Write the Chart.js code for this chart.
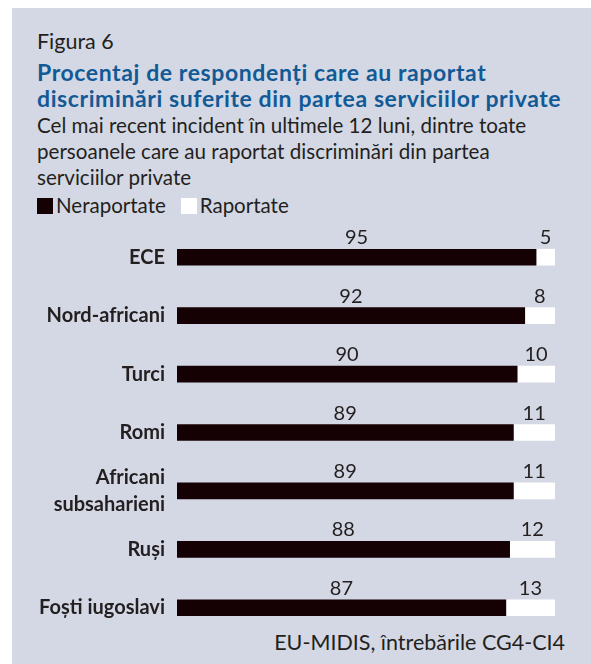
<!DOCTYPE html>
<html>
<head>
<meta charset="utf-8">
<script src="https://cdn.jsdelivr.net/npm/chart.js@4"></script>
<style>
  html, body { margin: 0; padding: 0; background: #fff; }
  body { width: 591px; height: 664px; position: relative; overflow: hidden; font-family: Lato, "Open Sans", sans-serif; color: #231f20; }
  #panel { position: absolute; left: 12px; top: 8px; right: 0; bottom: 0; background: #d4d8e4; }
  .t { position: absolute; left: 37px; white-space: nowrap; }
  #fig { top: 28px; font-size: 21.5px; line-height: 26px; }
  #title { top: 59px; font-size: 23px; line-height: 26px; font-weight: bold; color: #125a96; letter-spacing: 0.6px; }
  #sub { top: 112px; font-size: 20.6px; line-height: 26px; }
  #legend { top: 192px; font-size: 20.5px; line-height: 26px; }
  #legend span.box { display: inline-block; width: 16px; height: 16px; vertical-align: -1px; margin-right: 3px; }
  #legend span.item { margin-right: 15px; }
  #src { left: auto; right: 26px; top: 629px; font-size: 21.5px; line-height: 26px; }
  #wrap { position: absolute; left: 0; top: 0; width: 591px; height: 664px; }
</style>
</head>
<body>
<div id="panel"></div>
<div class="t" id="fig">Figura 6</div>
<div class="t" id="title">Procentaj de respondenți care au raportat<br>discriminări suferite din partea serviciilor private</div>
<div class="t" id="sub">Cel mai recent incident în ultimele 12 luni, dintre toate<br>persoanele care au raportat discriminări din partea<br>serviciilor private</div>
<div class="t" id="legend"></div>
<div class="t" id="src">EU-MIDIS, întrebările CG4-CI4</div>
<div id="wrap"><canvas id="chart"></canvas></div>
<script>
// grupuri și procente
const groups = ["ECE", "Nord-africani", "Turci", "Romi", ["Africani", "subsaharieni"], "Ruși", "Foști iugoslavi"]
const neraportate = [95, 92, 90, 89, 89, 88, 87]
const raportate = [5, 8, 10, 11, 11, 12, 13]
const seriesNames = ["Neraportate", "Raportate"]
const seriesColors = ["#150104", "#ffffff"]

// etichete cu valori deasupra fiecărui segment
const valueLabels = {
  id: "valueLabels",
  afterDatasetsDraw(chart) {
    const ctx = chart.ctx
    ctx.save()
    ctx.font = "20px Lato, 'Open Sans', sans-serif"
    ctx.fillStyle = "#231f20"
    ctx.textAlign = "center"
    ctx.textBaseline = "alphabetic"
    chart.data.datasets.forEach((ds, i) => {
      chart.getDatasetMeta(i).data.forEach((bar, j) => {
        const p = bar.getProps(["x", "y", "base", "height"], true)
        ctx.fillText(String(ds.data[j]), (p.x + p.base) / 2, p.y - p.height / 2 - 5)
      })
    })
    ctx.restore()
  }
}

const chart = new Chart(document.getElementById("chart"), {
  type: "bar",
  data: {
    labels: groups,
    datasets: [
      { label: seriesNames[0], data: neraportate, backgroundColor: seriesColors[0], borderWidth: 0, barThickness: 16 },
      { label: seriesNames[1], data: raportate, backgroundColor: seriesColors[1], borderWidth: 0, barThickness: 16 }
    ]
  },
  options: {
    indexAxis: "y",
    responsive: true,
    maintainAspectRatio: false,
    animation: false,
    layout: { padding: { left: 37, right: 36, top: 228, bottom: 27 } },
    plugins: {
      legend: { display: false },
      tooltip: { enabled: false }
    },
    scales: {
      x: { stacked: true, min: 0, max: 100, display: false },
      y: {
        stacked: true,
        grid: { display: false, drawTicks: false },
        border: { display: false },
        afterFit(scale) { scale.width = 140 },
        ticks: {
          padding: 12,
          color: "#231f20",
          font: { family: "Lato, 'Open Sans', sans-serif", size: 20, weight: "bold", lineHeight: 1.35 }
        }
      }
    }
  },
  plugins: [valueLabels]
})

// legenda, din seturile de date ale graficului
document.getElementById("legend").innerHTML = chart.data.datasets.map(ds =>
  `<span class="item"><span class="box" style="background:${ds.backgroundColor}"></span>${ds.label}</span>`
).join("")
</script>
</body>
</html>
